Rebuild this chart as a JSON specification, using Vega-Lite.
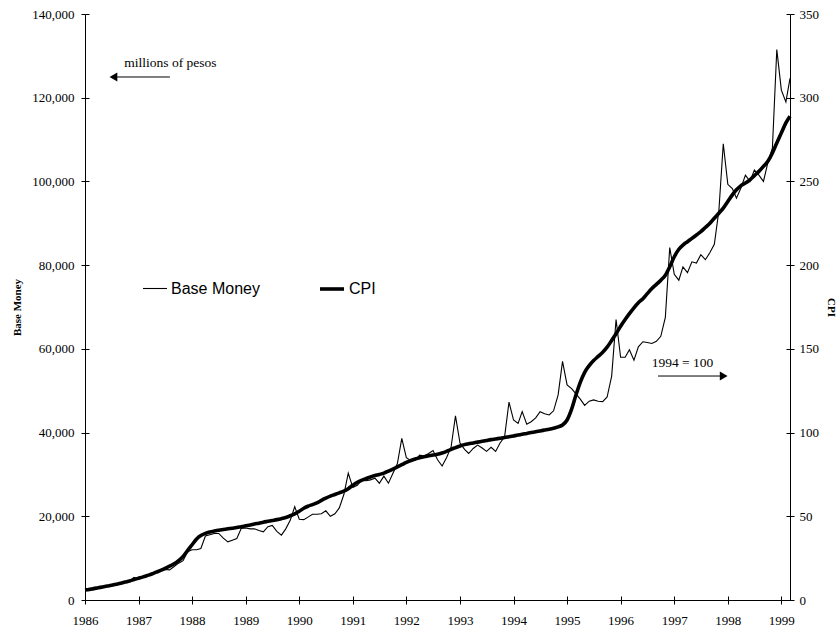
{
  "$schema": "https://vega.github.io/schema/vega-lite/v6.json",
  "width": 705,
  "height": 586,
  "autosize": "none",
  "padding": {"left": 85, "top": 14, "right": 47, "bottom": 31},
  "background": "white",
  "config": {
    "view": {"stroke": null},
    "font": "Liberation Serif",
    "axis": {
      "domainColor": "#000", "tickColor": "#000", "labelColor": "#000",
      "labelFont": "Liberation Serif", "labelFontSize": 13,
      "titleFont": "Liberation Serif", "titleFontSize": 11, "titleFontWeight": "bold", "titleColor": "#000",
      "grid": false, "tickSize": 4, "domainWidth": 1, "tickWidth": 1,
      "labelFlush": false, "labelOverlap": false
    }
  },
  "data": {"values": [
    {"d":"1986-01-01","bm":2700,"cpi":6.0},{"d":"1986-02-01","bm":2800,"cpi":6.3},{"d":"1986-03-01","bm":2800,"cpi":6.8},{"d":"1986-04-01","bm":3000,"cpi":7.3},{"d":"1986-05-01","bm":3200,"cpi":7.8},{"d":"1986-06-01","bm":3400,"cpi":8.3},{"d":"1986-07-01","bm":3600,"cpi":8.8},{"d":"1986-08-01","bm":3800,"cpi":9.4},{"d":"1986-09-01","bm":4000,"cpi":10.0},{"d":"1986-10-01","bm":4200,"cpi":10.7},{"d":"1986-11-01","bm":4500,"cpi":11.4},{"d":"1986-12-01","bm":5400,"cpi":12.2},
    {"d":"1987-01-01","bm":5000,"cpi":13.0},{"d":"1987-02-01","bm":5400,"cpi":13.8},{"d":"1987-03-01","bm":5900,"cpi":14.6},{"d":"1987-04-01","bm":6400,"cpi":15.5},{"d":"1987-05-01","bm":6700,"cpi":16.6},{"d":"1987-06-01","bm":7100,"cpi":17.7},{"d":"1987-07-01","bm":7300,"cpi":18.9},{"d":"1987-08-01","bm":7200,"cpi":20.2},{"d":"1987-09-01","bm":8000,"cpi":21.6},{"d":"1987-10-01","bm":8800,"cpi":23.5},{"d":"1987-11-01","bm":9400,"cpi":26.0},{"d":"1987-12-01","bm":11500,"cpi":29.5},
    {"d":"1988-01-01","bm":12000,"cpi":33.0},{"d":"1988-02-01","bm":12000,"cpi":36.5},{"d":"1988-03-01","bm":12300,"cpi":38.5},{"d":"1988-04-01","bm":15300,"cpi":39.8},{"d":"1988-05-01","bm":15600,"cpi":40.6},{"d":"1988-06-01","bm":15900,"cpi":41.2},{"d":"1988-07-01","bm":15900,"cpi":41.7},{"d":"1988-08-01","bm":14800,"cpi":42.1},{"d":"1988-09-01","bm":13900,"cpi":42.5},{"d":"1988-10-01","bm":14300,"cpi":42.9},{"d":"1988-11-01","bm":14700,"cpi":43.3},{"d":"1988-12-01","bm":17100,"cpi":43.8},
    {"d":"1989-01-01","bm":17200,"cpi":44.3},{"d":"1989-02-01","bm":17000,"cpi":44.8},{"d":"1989-03-01","bm":17000,"cpi":45.4},{"d":"1989-04-01","bm":16600,"cpi":45.9},{"d":"1989-05-01","bm":16300,"cpi":46.5},{"d":"1989-06-01","bm":17500,"cpi":47.0},{"d":"1989-07-01","bm":17800,"cpi":47.5},{"d":"1989-08-01","bm":16400,"cpi":48.0},{"d":"1989-09-01","bm":15500,"cpi":48.6},{"d":"1989-10-01","bm":17000,"cpi":49.3},{"d":"1989-11-01","bm":19100,"cpi":50.3},{"d":"1989-12-01","bm":22300,"cpi":51.5},
    {"d":"1990-01-01","bm":19300,"cpi":53.0},{"d":"1990-02-01","bm":19200,"cpi":54.8},{"d":"1990-03-01","bm":19800,"cpi":56.0},{"d":"1990-04-01","bm":20500,"cpi":57.0},{"d":"1990-05-01","bm":20500,"cpi":58.0},{"d":"1990-06-01","bm":20600,"cpi":59.5},{"d":"1990-07-01","bm":21300,"cpi":60.8},{"d":"1990-08-01","bm":20000,"cpi":62.0},{"d":"1990-09-01","bm":20600,"cpi":63.0},{"d":"1990-10-01","bm":22000,"cpi":64.0},{"d":"1990-11-01","bm":25200,"cpi":65.0},{"d":"1990-12-01","bm":30300,"cpi":66.5},
    {"d":"1991-01-01","bm":26900,"cpi":68.5},{"d":"1991-02-01","bm":27400,"cpi":70.3},{"d":"1991-03-01","bm":28600,"cpi":71.5},{"d":"1991-04-01","bm":28500,"cpi":72.5},{"d":"1991-05-01","bm":28700,"cpi":73.5},{"d":"1991-06-01","bm":29100,"cpi":74.3},{"d":"1991-07-01","bm":27900,"cpi":75.0},{"d":"1991-08-01","bm":29600,"cpi":75.8},{"d":"1991-09-01","bm":27900,"cpi":77.0},{"d":"1991-10-01","bm":30200,"cpi":78.2},{"d":"1991-11-01","bm":32600,"cpi":79.5},{"d":"1991-12-01","bm":38600,"cpi":80.8},
    {"d":"1992-01-01","bm":34000,"cpi":82.2},{"d":"1992-02-01","bm":33300,"cpi":83.3},{"d":"1992-03-01","bm":33400,"cpi":84.2},{"d":"1992-04-01","bm":34600,"cpi":85.0},{"d":"1992-05-01","bm":34400,"cpi":85.6},{"d":"1992-06-01","bm":35000,"cpi":86.1},{"d":"1992-07-01","bm":35700,"cpi":86.6},{"d":"1992-08-01","bm":33500,"cpi":87.0},{"d":"1992-09-01","bm":32000,"cpi":87.8},{"d":"1992-10-01","bm":34000,"cpi":88.8},{"d":"1992-11-01","bm":36500,"cpi":90.0},{"d":"1992-12-01","bm":44000,"cpi":91.0},
    {"d":"1993-01-01","bm":37500,"cpi":92.0},{"d":"1993-02-01","bm":36000,"cpi":92.8},{"d":"1993-03-01","bm":35000,"cpi":93.3},{"d":"1993-04-01","bm":36200,"cpi":93.8},{"d":"1993-05-01","bm":37000,"cpi":94.3},{"d":"1993-06-01","bm":36300,"cpi":94.8},{"d":"1993-07-01","bm":35500,"cpi":95.3},{"d":"1993-08-01","bm":36500,"cpi":95.8},{"d":"1993-09-01","bm":35500,"cpi":96.2},{"d":"1993-10-01","bm":37500,"cpi":96.6},{"d":"1993-11-01","bm":39000,"cpi":97.0},{"d":"1993-12-01","bm":47300,"cpi":97.5},
    {"d":"1994-01-01","bm":43000,"cpi":98.0},{"d":"1994-02-01","bm":42200,"cpi":98.5},{"d":"1994-03-01","bm":45000,"cpi":99.0},{"d":"1994-04-01","bm":42000,"cpi":99.5},{"d":"1994-05-01","bm":42600,"cpi":100.0},{"d":"1994-06-01","bm":43500,"cpi":100.5},{"d":"1994-07-01","bm":45000,"cpi":101.0},{"d":"1994-08-01","bm":44500,"cpi":101.5},{"d":"1994-09-01","bm":44200,"cpi":102.0},{"d":"1994-10-01","bm":45200,"cpi":102.6},{"d":"1994-11-01","bm":49000,"cpi":103.4},{"d":"1994-12-01","bm":57000,"cpi":104.5},
    {"d":"1995-01-01","bm":51400,"cpi":107.5},{"d":"1995-02-01","bm":50500,"cpi":114},{"d":"1995-03-01","bm":49300,"cpi":122},{"d":"1995-04-01","bm":48000,"cpi":130},{"d":"1995-05-01","bm":46500,"cpi":136},{"d":"1995-06-01","bm":47500,"cpi":140},{"d":"1995-07-01","bm":47800,"cpi":143},{"d":"1995-08-01","bm":47500,"cpi":145.5},{"d":"1995-09-01","bm":47400,"cpi":148},{"d":"1995-10-01","bm":48500,"cpi":151},{"d":"1995-11-01","bm":53500,"cpi":155},{"d":"1995-12-01","bm":67000,"cpi":159},
    {"d":"1996-01-01","bm":58000,"cpi":163.5},{"d":"1996-02-01","bm":58000,"cpi":167.5},{"d":"1996-03-01","bm":59800,"cpi":171},{"d":"1996-04-01","bm":57300,"cpi":174.5},{"d":"1996-05-01","bm":60500,"cpi":177.5},{"d":"1996-06-01","bm":61700,"cpi":180},{"d":"1996-07-01","bm":61500,"cpi":183},{"d":"1996-08-01","bm":61300,"cpi":186},{"d":"1996-09-01","bm":61800,"cpi":188.5},{"d":"1996-10-01","bm":63000,"cpi":191},{"d":"1996-11-01","bm":67500,"cpi":194},{"d":"1996-12-01","bm":84200,"cpi":199},
    {"d":"1997-01-01","bm":77800,"cpi":205},{"d":"1997-02-01","bm":76400,"cpi":209.5},{"d":"1997-03-01","bm":79600,"cpi":212},{"d":"1997-04-01","bm":78200,"cpi":214},{"d":"1997-05-01","bm":80800,"cpi":216},{"d":"1997-06-01","bm":80500,"cpi":218},{"d":"1997-07-01","bm":82500,"cpi":220},{"d":"1997-08-01","bm":81300,"cpi":222.5},{"d":"1997-09-01","bm":83000,"cpi":225},{"d":"1997-10-01","bm":85000,"cpi":228},{"d":"1997-11-01","bm":93000,"cpi":231},{"d":"1997-12-01","bm":109000,"cpi":234},
    {"d":"1998-01-01","bm":99300,"cpi":238},{"d":"1998-02-01","bm":98300,"cpi":242},{"d":"1998-03-01","bm":96000,"cpi":245},{"d":"1998-04-01","bm":98500,"cpi":247.5},{"d":"1998-05-01","bm":101500,"cpi":249},{"d":"1998-06-01","bm":100000,"cpi":251},{"d":"1998-07-01","bm":102700,"cpi":253.5},{"d":"1998-08-01","bm":101500,"cpi":256},{"d":"1998-09-01","bm":100000,"cpi":259},{"d":"1998-10-01","bm":104500,"cpi":262},{"d":"1998-11-01","bm":108000,"cpi":267},{"d":"1998-12-01","bm":131500,"cpi":273},
    {"d":"1999-01-01","bm":121800,"cpi":279},{"d":"1999-02-01","bm":119000,"cpi":285},{"d":"1999-03-01","bm":124600,"cpi":289}
  ]},
  "layer": [
    {
      "encoding": {
        "x": {"field": "d", "type": "temporal",
          "scale": {"type": "utc", "domain": [{"year":1986,"month":1,"date":1,"utc":true},{"year":1999,"month":3,"date":1,"utc":true}]},
          "axis": {"title": null, "format": "%Y", "labelPadding": 10,
            "values": [{"year":1986,"utc":true},{"year":1987,"utc":true},{"year":1988,"utc":true},{"year":1989,"utc":true},{"year":1990,"utc":true},{"year":1991,"utc":true},{"year":1992,"utc":true},{"year":1993,"utc":true},{"year":1994,"utc":true},{"year":1995,"utc":true},{"year":1996,"utc":true},{"year":1997,"utc":true},{"year":1998,"utc":true},{"year":1999,"utc":true}]}},
        "y": {"field": "bm", "type": "quantitative",
          "scale": {"domain": [0, 140000]},
          "axis": {"orient": "left", "title": "Base Money", "format": ",.0f", "labelPadding": 7, "titlePadding": 9,
            "values": [0,20000,40000,60000,80000,100000,120000,140000]}}
      },
      "layer": [
        {
          "mark": {"type": "line", "color": "black"},
          "encoding": {
            "strokeWidth": {"datum": "Base Money", "type": "ordinal",
              "scale": {"domain": ["Base Money", "CPI"], "range": [1.1, 3.6]},
              "legend": {"title": null, "orient": "none", "legendX": 57, "legendY": 261, "direction": "horizontal",
                "symbolType": "stroke", "symbolSize": 576, "symbolStrokeColor": "black",
                "labelFont": "Liberation Sans", "labelFontSize": 16, "labelColor": "black",
                "labelOffset": 3, "columnPadding": 52, "padding": 0}}
          }
        },
        {
          "data": {"values": [
            {"d": "1986-09-26", "bm": 127400, "t": "millions of pesos"},
            {"d": "1996-07-31", "bm": 55780, "t": "1994 = 100"}
          ]},
          "mark": {"type": "text", "align": "left", "baseline": "alphabetic", "font": "Liberation Serif", "fontSize": 13.5, "color": "black"},
          "encoding": {"text": {"field": "t"}}
        },
        {
          "data": {"values": [
            {"d": "1986-07-17", "d2": "1987-08-03", "bm": 124950},
            {"d": "1996-09-12", "d2": "1997-12-02", "bm": 53510}
          ]},
          "mark": {"type": "rule", "color": "black", "strokeWidth": 1},
          "encoding": {"x2": {"field": "d2"}}
        },
        {
          "data": {"values": [{"d": "1986-07-14", "bm": 124950}]},
          "mark": {"type": "point", "shape": "triangle-left", "filled": true, "color": "black", "opacity": 1, "size": 80},
          "encoding": {}
        },
        {
          "data": {"values": [{"d": "1997-12-04", "bm": 53510}]},
          "mark": {"type": "point", "shape": "triangle-right", "filled": true, "color": "black", "opacity": 1, "size": 80},
          "encoding": {}
        }
      ]
    },
    {
      "mark": {"type": "line", "color": "black", "interpolate": "monotone"},
      "encoding": {
        "x": {"field": "d", "type": "temporal",
          "scale": {"type": "utc", "domain": [{"year":1986,"month":1,"date":1,"utc":true},{"year":1999,"month":3,"date":1,"utc":true}]},
          "axis": null},
        "y": {"field": "cpi", "type": "quantitative",
          "scale": {"domain": [0, 350]},
          "axis": {"orient": "right", "title": "CPI", "labelPadding": 5, "titlePadding": 7,
            "values": [0,50,100,150,200,250,300,350]}},
        "strokeWidth": {"datum": "CPI", "type": "ordinal",
          "scale": {"domain": ["Base Money", "CPI"], "range": [1.1, 3.6]}}
      }
    },
    {
      "mark": {"type": "line", "opacity": 0},
      "encoding": {
        "x": {"field": "d", "type": "temporal",
          "scale": {"type": "utc", "domain": [{"year":1986,"month":1,"date":1,"utc":true},{"year":1999,"month":3,"date":1,"utc":true}]},
          "axis": {"orient": "bottom", "offset": -4, "domain": false, "labels": false, "title": null, "tickSize": 4,
            "values": [{"year":1986,"utc":true},{"year":1987,"utc":true},{"year":1988,"utc":true},{"year":1989,"utc":true},{"year":1990,"utc":true},{"year":1991,"utc":true},{"year":1992,"utc":true},{"year":1993,"utc":true},{"year":1994,"utc":true},{"year":1995,"utc":true},{"year":1996,"utc":true},{"year":1997,"utc":true},{"year":1998,"utc":true},{"year":1999,"utc":true}]}},
        "y": {"field": "bm", "type": "quantitative",
          "scale": {"domain": [0, 140000]},
          "axis": {"orient": "left", "offset": -4, "domain": false, "labels": false, "title": null, "tickSize": 4,
            "values": [0,20000,40000,60000,80000,100000,120000,140000]}}
      }
    },
    {
      "mark": {"type": "line", "opacity": 0},
      "encoding": {
        "x": {"field": "d", "type": "temporal",
          "scale": {"type": "utc", "domain": [{"year":1986,"month":1,"date":1,"utc":true},{"year":1999,"month":3,"date":1,"utc":true}]},
          "axis": null},
        "y": {"field": "cpi", "type": "quantitative",
          "scale": {"domain": [0, 350]},
          "axis": {"orient": "right", "offset": -4, "domain": false, "labels": false, "title": null, "tickSize": 4,
            "values": [0,50,100,150,200,250,300,350]}}
      }
    }
  ],
  "resolve": {"scale": {"x": "independent", "y": "independent"}}
}
